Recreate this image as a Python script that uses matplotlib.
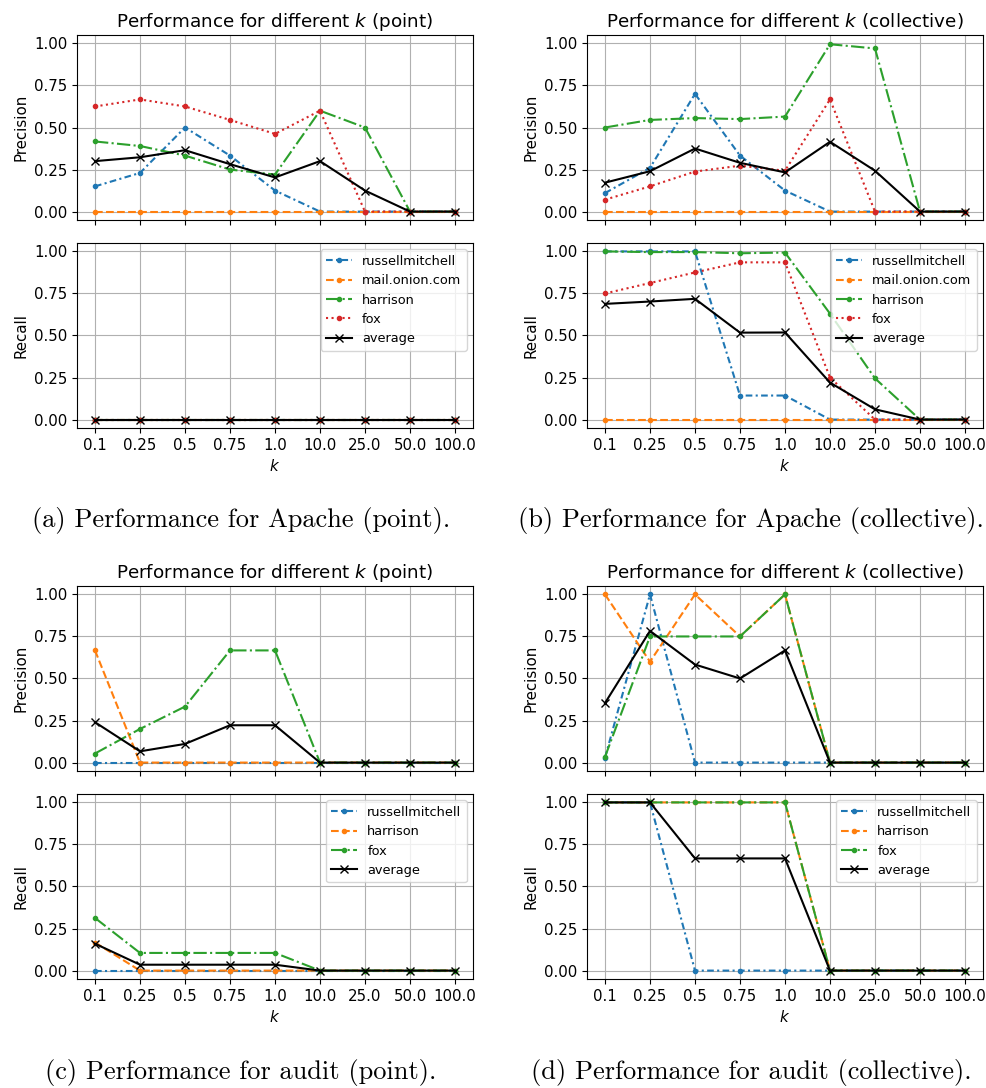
import matplotlib
matplotlib.use("Agg")
import matplotlib.pyplot as plt

k_labels = ["0.1", "0.25", "0.5", "0.75", "1.0", "10.0", "25.0", "50.0", "100.0"]

apache_names = ["russellmitchell", "mail.onion.com", "harrison", "fox"]
audit_names = ["russellmitchell", "harrison", "fox"]

# Apache, point
apache_point_prec_russell = [0.15, 0.23, 0.5, 0.333, 0.125, 0.0, 0.0, 0.0, 0.0]
apache_point_prec_onion = [0.0, 0.0, 0.0, 0.0, 0.0, 0.0, 0.0, 0.0, 0.0]
apache_point_prec_harrison = [0.417, 0.39, 0.333, 0.25, 0.22, 0.6, 0.5, 0.0, 0.0]
apache_point_prec_fox = [0.625, 0.667, 0.625, 0.545, 0.462, 0.6, 0.0, 0.0, 0.0]
apache_point_prec_avg = [0.3, 0.323, 0.365, 0.282, 0.203, 0.3, 0.125, 0.0, 0.0]
apache_point_rec_russell = [0.0, 0.0, 0.0, 0.0, 0.0, 0.0, 0.0, 0.0, 0.0]
apache_point_rec_onion = [0.0, 0.0, 0.0, 0.0, 0.0, 0.0, 0.0, 0.0, 0.0]
apache_point_rec_harrison = [0.0, 0.0, 0.0, 0.0, 0.0, 0.0, 0.0, 0.0, 0.0]
apache_point_rec_fox = [0.0, 0.0, 0.0, 0.0, 0.0, 0.0, 0.0, 0.0, 0.0]
apache_point_rec_avg = [0.0, 0.0, 0.0, 0.0, 0.0, 0.0, 0.0, 0.0, 0.0]

# Apache, collective
apache_coll_prec_russell = [0.11, 0.26, 0.7, 0.333, 0.125, 0.0, 0.0, 0.0, 0.0]
apache_coll_prec_onion = [0.0, 0.0, 0.0, 0.0, 0.0, 0.0, 0.0, 0.0, 0.0]
apache_coll_prec_harrison = [0.5, 0.545, 0.556, 0.55, 0.565, 0.995, 0.97, 0.0, 0.0]
apache_coll_prec_fox = [0.071, 0.15, 0.238, 0.273, 0.243, 0.667, 0.0, 0.0, 0.0]
apache_coll_prec_avg = [0.172, 0.24, 0.375, 0.29, 0.233, 0.415, 0.243, 0.0, 0.0]
apache_coll_rec_russell = [1.0, 1.0, 1.0, 0.143, 0.143, 0.0, 0.0, 0.0, 0.0]
apache_coll_rec_onion = [0.0, 0.0, 0.0, 0.0, 0.0, 0.0, 0.0, 0.0, 0.0]
apache_coll_rec_harrison = [1.0, 0.996, 0.996, 0.989, 0.993, 0.63, 0.245, 0.0, 0.0]
apache_coll_rec_fox = [0.75, 0.812, 0.875, 0.935, 0.935, 0.25, 0.0, 0.0, 0.0]
apache_coll_rec_avg = [0.688, 0.702, 0.718, 0.517, 0.518, 0.22, 0.061, 0.0, 0.0]

# audit, point
audit_point_prec_russell = [0.0, 0.0, 0.0, 0.0, 0.0, 0.0, 0.0, 0.0, 0.0]
audit_point_prec_harrison = [0.667, 0.0, 0.0, 0.0, 0.0, 0.0, 0.0, 0.0, 0.0]
audit_point_prec_fox = [0.054, 0.2, 0.333, 0.667, 0.667, 0.0, 0.0, 0.0, 0.0]
audit_point_prec_avg = [0.24, 0.067, 0.111, 0.222, 0.222, 0.0, 0.0, 0.0, 0.0]
audit_point_rec_russell = [0.0, 0.0, 0.0, 0.0, 0.0, 0.0, 0.0, 0.0, 0.0]
audit_point_rec_harrison = [0.167, 0.0, 0.0, 0.0, 0.0, 0.0, 0.0, 0.0, 0.0]
audit_point_rec_fox = [0.313, 0.105, 0.105, 0.105, 0.105, 0.0, 0.0, 0.0, 0.0]
audit_point_rec_avg = [0.16, 0.035, 0.035, 0.035, 0.035, 0.0, 0.0, 0.0, 0.0]

# audit, collective
audit_coll_prec_russell = [0.028, 1.0, 0.0, 0.0, 0.0, 0.0, 0.0, 0.0, 0.0]
audit_coll_prec_harrison = [1.0, 0.6, 1.0, 0.75, 1.0, 0.0, 0.0, 0.0, 0.0]
audit_coll_prec_fox = [0.034, 0.75, 0.75, 0.75, 1.0, 0.0, 0.0, 0.0, 0.0]
audit_coll_prec_avg = [0.354, 0.783, 0.583, 0.5, 0.667, 0.0, 0.0, 0.0, 0.0]
audit_coll_rec_russell = [1.0, 1.0, 0.0, 0.0, 0.0, 0.0, 0.0, 0.0, 0.0]
audit_coll_rec_harrison = [1.0, 1.0, 1.0, 1.0, 1.0, 0.0, 0.0, 0.0, 0.0]
audit_coll_rec_fox = [1.0, 1.0, 1.0, 1.0, 1.0, 0.0, 0.0, 0.0, 0.0]
audit_coll_rec_avg = [1.0, 1.0, 0.667, 0.667, 0.667, 0.0, 0.0, 0.0, 0.0]

styles = [(0, (3.2, 1.6, 1, 1.6)), "--", "-.", ":"]
colors = ["C0", "C1", "C2", "C3"]

W, H = 986, 1088
fig = plt.figure(figsize=(W / 100, H / 100), dpi=100)

TICK = 10.8
LEG = 9.3
TITLE = 13.2
CAPTION = 19


def add_ax(left, top, right, bottom):
    return fig.add_axes([left / W, 1 - bottom / H, (right - left) / W, (bottom - top) / H])


def draw(ax, names, series, avg, legend=False):
    x = range(len(k_labels))
    for i, (name, vals) in enumerate(zip(names, series)):
        ax.plot(x, vals, linestyle=styles[i], marker=".", color=colors[i], label=name)
    ax.plot(x, avg, "-x", color="black", label="average")
    ax.set_ylim(-0.05, 1.05)
    ax.set_yticks([0, 0.25, 0.5, 0.75, 1.0])
    ax.set_xticks(list(x))
    ax.grid(True)
    ax.tick_params(labelsize=TICK)
    if legend:
        ax.legend(loc="upper right", fontsize=LEG)


def panel(left, top, mode, names, prec, prec_avg, rec, rec_avg, caption, cap_y):
    right = left + 396
    ax_p = add_ax(left, top, right, top + 185)
    ax_r = add_ax(left, top + 208, right, top + 393)
    draw(ax_p, names, prec, prec_avg)
    draw(ax_r, names, rec, rec_avg, legend=True)
    ax_p.set_xticklabels([])
    ax_r.set_xticklabels(k_labels)
    ax_p.set_title(f"Performance for different $k$ ({mode})", fontsize=TITLE)
    ax_p.set_ylabel("Precision", fontsize=TICK)
    ax_r.set_ylabel("Recall", fontsize=TICK)
    ax_r.set_xlabel("$k$", fontsize=TICK)
    # subfigure caption, set slightly left of the axes centre
    fig.text(((left + right) / 2 - 34) / W, 1 - cap_y / H, caption,
             ha="center", va="center", fontsize=CAPTION, family="cmr10")


panel(77, 35, "point", apache_names,
      [apache_point_prec_russell, apache_point_prec_onion, apache_point_prec_harrison, apache_point_prec_fox],
      apache_point_prec_avg,
      [apache_point_rec_russell, apache_point_rec_onion, apache_point_rec_harrison, apache_point_rec_fox],
      apache_point_rec_avg,
      "(a) Performance for Apache (point).", 520)
panel(587, 35, "collective", apache_names,
      [apache_coll_prec_russell, apache_coll_prec_onion, apache_coll_prec_harrison, apache_coll_prec_fox],
      apache_coll_prec_avg,
      [apache_coll_rec_russell, apache_coll_rec_onion, apache_coll_rec_harrison, apache_coll_rec_fox],
      apache_coll_rec_avg,
      "(b) Performance for Apache (collective).", 520)
panel(77, 586, "point", audit_names,
      [audit_point_prec_russell, audit_point_prec_harrison, audit_point_prec_fox],
      audit_point_prec_avg,
      [audit_point_rec_russell, audit_point_rec_harrison, audit_point_rec_fox],
      audit_point_rec_avg,
      "(c) Performance for audit (point).", 1073)
panel(587, 586, "collective", audit_names,
      [audit_coll_prec_russell, audit_coll_prec_harrison, audit_coll_prec_fox],
      audit_coll_prec_avg,
      [audit_coll_rec_russell, audit_coll_rec_harrison, audit_coll_rec_fox],
      audit_coll_rec_avg,
      "(d) Performance for audit (collective).", 1073)

fig.savefig("out.png", dpi=100)
